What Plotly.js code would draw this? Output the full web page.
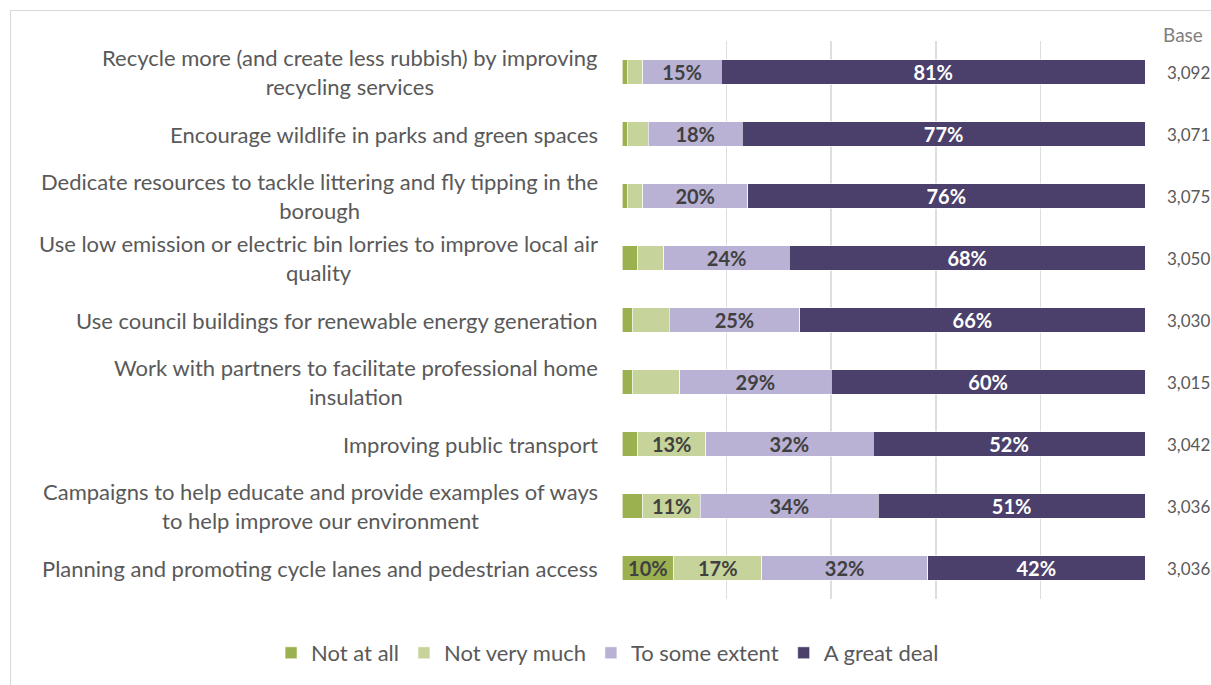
<!DOCTYPE html>
<html><head><meta charset="utf-8">
<script src="https://cdn.plot.ly/plotly-3.0.1.min.js"></script>
<style>
body{margin:0;padding:0;background:#fff;}
#chart{position:absolute;left:0;top:0;width:1211px;height:685px;}
#frame{position:absolute;left:10px;top:10px;width:1400px;height:1000px;border:1px solid #d9d9d9;pointer-events:none;z-index:5;}
</style></head>
<body>
<div id="chart"></div>
<div id="frame"></div>
<script>
const categories = [
  "Recycle more (and create less rubbish) by improving<br>recycling services",
  "Encourage wildlife in parks and green spaces",
  "Dedicate resources to tackle littering and fly tipping in the<br>borough",
  "Use low emission or electric bin lorries to improve local air<br>quality",
  "Use council buildings for renewable energy generation",
  "Work with partners to facilitate professional home<br>insulation",
  "Improving public transport",
  "Campaigns to help educate and provide examples of ways<br>to help improve our environment",
  "Planning and promoting cycle lanes and pedestrian access"
];
const seriesNames = ["Not at all", "Not very much", "To some extent", "A great deal"];
const notAtAll     = [1, 1, 1, 3, 2, 2, 3, 4, 10];
const notVeryMuch  = [3, 4, 3, 5, 7, 9, 13, 11, 17];
const toSomeExtent = [15, 18, 20, 24, 25, 29, 32, 34, 32];
const aGreatDeal   = [81, 77, 76, 68, 66, 60, 52, 51, 42];
const bases = ["3,092", "3,071", "3,075", "3,050", "3,030", "3,015", "3,042", "3,036", "3,036"];
const colors = ["#9BB04F", "#C6D49B", "#B9B2D4", "#4B3F6B"];
const textColors = ["#404040", "#404040", "#404040", "#ffffff"];

const FONT = "Lato, 'Open Sans', sans-serif";
const allSeries = [notAtAll, notVeryMuch, toSomeExtent, aGreatDeal];
const ids = categories.map((c, i) => "c" + i);

const traces = allSeries.map((vals, k) => ({
  type: "bar",
  orientation: "h",
  name: seriesNames[k],
  y: ids,
  x: vals,
  text: vals.map(v => v >= 10 ? v + "%" : ""),
  textposition: "inside",
  insidetextanchor: "middle",
  textangle: 0,
  constraintext: "none",
  textfont: {family: FONT, size: 20, color: textColors[k], weight: "bold"},
  marker: {color: colors[k], line: {color: "#ffffff", width: 0.6}},
  hoverinfo: "skip"
}));

const annotations = [];
categories.forEach((c, i) => {
  annotations.push({
    xref: "paper", yref: "y", x: 0, y: ids[i], xanchor: "right", yanchor: "middle",
    xshift: -22, align: "center", showarrow: false, text: c,
    font: {family: FONT, size: 22, color: "#595959"}
  });
  annotations.push({
    xref: "paper", yref: "y", x: 1.0383, y: ids[i], xanchor: "left", yanchor: "middle",
    showarrow: false, text: bases[i],
    font: {family: FONT, size: 17, color: "#595959"}
  });
});
annotations.push({
  xref: "paper", yref: "paper", x: 1.0306, y: 1.011, xanchor: "left", yanchor: "middle",
  showarrow: false, text: "Base", font: {family: FONT, size: 19, color: "#7f7f7f"}
});

const layout = {
  width: 1211, height: 685,
  margin: {l: 622, r: 66, t: 41, b: 85},
  paper_bgcolor: "#ffffff", plot_bgcolor: "#ffffff",
  barmode: "stack", barnorm: "percent", bargap: 0.6,
  font: {family: FONT, color: "#595959"},
  xaxis: {range: [0, 100], dtick: 20, tick0: 0, showgrid: true, gridcolor: "#dedede", gridwidth: 1.5,
          zeroline: false, showline: false, showticklabels: false, ticks: "", fixedrange: true},
  yaxis: {type: "category", categoryorder: "array", categoryarray: ids, autorange: "reversed",
          showticklabels: false, showgrid: false, zeroline: false, ticks: "", fixedrange: true},
  showlegend: true,
  legend: {orientation: "h", x: -0.671, y: -0.0948,
           xanchor: "left", yanchor: "middle", font: {family: FONT, size: 22, color: "#595959"},
           traceorder: "normal", bgcolor: "rgba(0,0,0,0)"},
  annotations: annotations
};

Plotly.newPlot("chart", traces, layout, {displayModeBar: false, staticPlot: true});
</script>
</body></html>
